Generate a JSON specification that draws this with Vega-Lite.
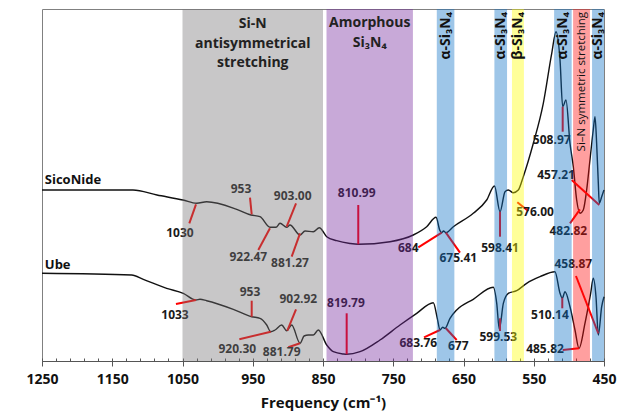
{
  "$schema": "https://vega.github.io/schema/vega-lite/v6.json",
  "width": 562,
  "height": 352,
  "autosize": {"type": "none"},
  "padding": {"left": 42, "top": 9, "right": 19, "bottom": 55},
  "config": {
    "font": "Open Sans",
    "view": {"stroke": "#808080", "strokeWidth": 1}
  },
  "resolve": {"axis": {"x": "independent"}},
  "datasets": {
    "curves": [
      {"s": "SicoNide", "f": 1250, "t": 172},
      {"s": "SicoNide", "f": 1120.5, "t": 172},
      {"s": "SicoNide", "f": 1086.3, "t": 167},
      {"s": "SicoNide", "f": 1049.3, "t": 162},
      {"s": "SicoNide", "f": 1029.8, "t": 158.7},
      {"s": "SicoNide", "f": 1015.6, "t": 160.3},
      {"s": "SicoNide", "f": 972.8, "t": 152.7},
      {"s": "SicoNide", "f": 952.5, "t": 147},
      {"s": "SicoNide", "f": 939.7, "t": 145.3},
      {"s": "SicoNide", "f": 925.4, "t": 134.7},
      {"s": "SicoNide", "f": 916.9, "t": 134.7},
      {"s": "SicoNide", "f": 911.2, "t": 138.7},
      {"s": "SicoNide", "f": 901.7, "t": 134.7},
      {"s": "SicoNide", "f": 897, "t": 137},
      {"s": "SicoNide", "f": 882.7, "t": 127},
      {"s": "SicoNide", "f": 875.6, "t": 131},
      {"s": "SicoNide", "f": 863.8, "t": 130.3},
      {"s": "SicoNide", "f": 855.3, "t": 134.3},
      {"s": "SicoNide", "f": 844.7, "t": 125.3},
      {"s": "SicoNide", "f": 830.5, "t": 121.3},
      {"s": "SicoNide", "f": 811.6, "t": 118.5},
      {"s": "SicoNide", "f": 799.8, "t": 117.7},
      {"s": "SicoNide", "f": 754.6, "t": 120.3},
      {"s": "SicoNide", "f": 721.5, "t": 127},
      {"s": "SicoNide", "f": 702.4, "t": 135.3},
      {"s": "SicoNide", "f": 689.1, "t": 144.7},
      {"s": "SicoNide", "f": 683.5, "t": 131.3},
      {"s": "SicoNide", "f": 681, "t": 129.3},
      {"s": "SicoNide", "f": 678.5, "t": 131},
      {"s": "SicoNide", "f": 675.1, "t": 129.3},
      {"s": "SicoNide", "f": 664.5, "t": 135.3},
      {"s": "SicoNide", "f": 636.1, "t": 148.7},
      {"s": "SicoNide", "f": 617, "t": 162},
      {"s": "SicoNide", "f": 605.9, "t": 176},
      {"s": "SicoNide", "f": 598, "t": 150.3},
      {"s": "SicoNide", "f": 590.9, "t": 170.3},
      {"s": "SicoNide", "f": 586.2, "t": 172},
      {"s": "SicoNide", "f": 579.1, "t": 169.3},
      {"s": "SicoNide", "f": 572, "t": 172},
      {"s": "SicoNide", "f": 564.9, "t": 185.3},
      {"s": "SicoNide", "f": 550.6, "t": 218.7},
      {"s": "SicoNide", "f": 536.4, "t": 258.7},
      {"s": "SicoNide", "f": 524.4, "t": 308.7},
      {"s": "SicoNide", "f": 518.3, "t": 330.3},
      {"s": "SicoNide", "f": 512.6, "t": 302},
      {"s": "SicoNide", "f": 508.8, "t": 255.3},
      {"s": "SicoNide", "f": 504.1, "t": 262},
      {"s": "SicoNide", "f": 498.4, "t": 218.7},
      {"s": "SicoNide", "f": 493.7, "t": 195.3},
      {"s": "SicoNide", "f": 488.9, "t": 162},
      {"s": "SicoNide", "f": 484.2, "t": 148.7},
      {"s": "SicoNide", "f": 479.5, "t": 152},
      {"s": "SicoNide", "f": 474.7, "t": 172},
      {"s": "SicoNide", "f": 470, "t": 202},
      {"s": "SicoNide", "f": 465.3, "t": 232},
      {"s": "SicoNide", "f": 462.8, "t": 245.3},
      {"s": "SicoNide", "f": 460.5, "t": 219},
      {"s": "SicoNide", "f": 458.1, "t": 179},
      {"s": "SicoNide", "f": 456.7, "t": 158.7},
      {"s": "SicoNide", "f": 453.3, "t": 165.3},
      {"s": "SicoNide", "f": 450, "t": 172},
      {"s": "Ube", "f": 1250, "t": 88.7},
      {"s": "Ube", "f": 1122.3, "t": 87},
      {"s": "Ube", "f": 1105.8, "t": 82.7},
      {"s": "Ube", "f": 1072.5, "t": 73.7},
      {"s": "Ube", "f": 1048.9, "t": 68.7},
      {"s": "Ube", "f": 1030.8, "t": 62},
      {"s": "Ube", "f": 1025.1, "t": 62.7},
      {"s": "Ube", "f": 1015.6, "t": 61.3},
      {"s": "Ube", "f": 977.7, "t": 52.7},
      {"s": "Ube", "f": 951.5, "t": 45.3},
      {"s": "Ube", "f": 939.7, "t": 43.7},
      {"s": "Ube", "f": 930.1, "t": 37},
      {"s": "Ube", "f": 924.4, "t": 30.3},
      {"s": "Ube", "f": 918.3, "t": 32},
      {"s": "Ube", "f": 908.8, "t": 37},
      {"s": "Ube", "f": 901.7, "t": 31.3},
      {"s": "Ube", "f": 894.6, "t": 37},
      {"s": "Ube", "f": 882.7, "t": 18.7},
      {"s": "Ube", "f": 877, "t": 26},
      {"s": "Ube", "f": 870.9, "t": 27},
      {"s": "Ube", "f": 863.8, "t": 27},
      {"s": "Ube", "f": 856.7, "t": 32},
      {"s": "Ube", "f": 844.7, "t": 17},
      {"s": "Ube", "f": 835.3, "t": 10.3},
      {"s": "Ube", "f": 821.1, "t": 8},
      {"s": "Ube", "f": 816.3, "t": 7.7},
      {"s": "Ube", "f": 797.3, "t": 10.3},
      {"s": "Ube", "f": 768.9, "t": 22},
      {"s": "Ube", "f": 740.4, "t": 37},
      {"s": "Ube", "f": 716.6, "t": 48.7},
      {"s": "Ube", "f": 693, "t": 59.3},
      {"s": "Ube", "f": 687.3, "t": 43.7},
      {"s": "Ube", "f": 683.5, "t": 32},
      {"s": "Ube", "f": 679.6, "t": 34.7},
      {"s": "Ube", "f": 676.3, "t": 33.7},
      {"s": "Ube", "f": 669.2, "t": 43.7},
      {"s": "Ube", "f": 659.7, "t": 52},
      {"s": "Ube", "f": 636.1, "t": 62.7},
      {"s": "Ube", "f": 607.6, "t": 74.7},
      {"s": "Ube", "f": 602.7, "t": 58.7},
      {"s": "Ube", "f": 599, "t": 32.7},
      {"s": "Ube", "f": 593.3, "t": 58.7},
      {"s": "Ube", "f": 586.2, "t": 68.7},
      {"s": "Ube", "f": 574.3, "t": 71.3},
      {"s": "Ube", "f": 560.1, "t": 78.7},
      {"s": "Ube", "f": 541.1, "t": 85.3},
      {"s": "Ube", "f": 519.8, "t": 90.3},
      {"s": "Ube", "f": 512.6, "t": 68.7},
      {"s": "Ube", "f": 509.4, "t": 63.7},
      {"s": "Ube", "f": 505.5, "t": 70.3},
      {"s": "Ube", "f": 498.4, "t": 55.3},
      {"s": "Ube", "f": 491.3, "t": 32},
      {"s": "Ube", "f": 485.6, "t": 13.7},
      {"s": "Ube", "f": 477.1, "t": 38.7},
      {"s": "Ube", "f": 469, "t": 68.7},
      {"s": "Ube", "f": 465.2, "t": 83.7},
      {"s": "Ube", "f": 461.4, "t": 65.3},
      {"s": "Ube", "f": 458.1, "t": 27},
      {"s": "Ube", "f": 453.3, "t": 55.3},
      {"s": "Ube", "f": 450, "t": 65.3}
    ],
    "ann": [
      {"f": 1040.3, "t": 138.7, "f2": 1030.8, "t2": 157.7},
      {"f": 953.9, "t": 164.3, "f2": 951.5, "t2": 147.7},
      {"f": 942.1, "t": 112, "f2": 925.5, "t2": 133.7},
      {"f": 888.4, "t": 158.7, "f2": 901.7, "t2": 135.3},
      {"f": 894.6, "t": 105.3, "f2": 882.7, "t2": 128.7},
      {"f": 799.8, "t": 157, "f2": 799.8, "t2": 117.7},
      {"f": 714.3, "t": 114.7, "f2": 681, "t2": 129.3},
      {"f": 655, "t": 109.3, "f2": 675.1, "t2": 129.3},
      {"f": 598, "t": 125.3, "f2": 598, "t2": 150.3},
      {"f": 557.8, "t": 151, "f2": 573.4, "t2": 159.7},
      {"f": 508.8, "t": 230.3, "f2": 508.8, "t2": 255.3},
      {"f": 496, "t": 182, "f2": 456.7, "t2": 157},
      {"f": 498.4, "t": 138.7, "f2": 484.2, "t2": 152.7},
      {"f": 1059.3, "t": 58, "f2": 1030.8, "t2": 62},
      {"f": 951.5, "t": 61.3, "f2": 951.5, "t2": 45.3},
      {"f": 969.1, "t": 22.7, "f2": 924.4, "t2": 30.3},
      {"f": 888.4, "t": 52.7, "f2": 900.8, "t2": 31.3},
      {"f": 899.4, "t": 14.7, "f2": 882.7, "t2": 18.7},
      {"f": 816.3, "t": 48.7, "f2": 816.3, "t2": 7.7},
      {"f": 706.2, "t": 24.7, "f2": 683.5, "t2": 32},
      {"f": 659.7, "t": 22, "f2": 675.1, "t2": 33.7},
      {"f": 598, "t": 43.7, "f2": 598, "t2": 31},
      {"f": 509.4, "t": 53.7, "f2": 509.4, "t2": 64.3},
      {"f": 508.8, "t": 12, "f2": 485.6, "t2": 13.7},
      {"f": 489.9, "t": 86, "f2": 458.1, "t2": 28.7}
    ],
    "lab": [
      {"f": 1053.6, "t": 129, "txt": "1030"},
      {"f": 966.7, "t": 173, "txt": "953"},
      {"f": 956.3, "t": 104.7, "txt": "922.47"},
      {"f": 893.2, "t": 166, "txt": "903.00"},
      {"f": 897, "t": 98.7, "txt": "881.27"},
      {"f": 802, "t": 168.7, "txt": "810.99"},
      {"f": 728.6, "t": 114.3, "txt": "684"},
      {"f": 657.4, "t": 103.7, "txt": "675.41"},
      {"f": 598, "t": 114.3, "txt": "598.41"},
      {"f": 548.2, "t": 150.3, "txt": "576.00"},
      {"f": 524.4, "t": 222, "txt": "508.97"},
      {"f": 518.3, "t": 187, "txt": "457.21"},
      {"f": 500.8, "t": 131.3, "txt": "482.82"},
      {"f": 1060.7, "t": 47, "txt": "1033"},
      {"f": 953.9, "t": 70.3, "txt": "953"},
      {"f": 972, "t": 13, "txt": "920.30"},
      {"f": 885.1, "t": 62.7, "txt": "902.92"},
      {"f": 908.8, "t": 10.3, "txt": "881.79"},
      {"f": 817.3, "t": 58.7, "txt": "819.79"},
      {"f": 714.3, "t": 19.3, "txt": "683.76"},
      {"f": 657.4, "t": 16.3, "txt": "677"},
      {"f": 600.5, "t": 25.3, "txt": "599.53"},
      {"f": 526.9, "t": 47, "txt": "510.14"},
      {"f": 534, "t": 12.7, "txt": "485.82"},
      {"f": 493.7, "t": 98, "txt": "458.87"}
    ],
    "bands": [
      {"b1": 1050, "b2": 850, "k": "gray"},
      {"b1": 845, "b2": 722, "k": "purple"},
      {"b1": 688, "b2": 663, "k": "blue"},
      {"b1": 606, "b2": 588, "k": "blue"},
      {"b1": 581, "b2": 564, "k": "yellow"},
      {"b1": 521, "b2": 496, "k": "blue"},
      {"b1": 494, "b2": 470, "k": "red"},
      {"b1": 467, "b2": 450, "k": "blue"}
    ],
    "hdr": [
      {"f": 950, "t": 338, "txt": "Si-N"},
      {"f": 950, "t": 318, "txt": "antisymmetrical"},
      {"f": 950, "t": 299, "txt": "stretching"},
      {"f": 783.5, "t": 339, "txt": "Amorphous"},
      {"f": 783.5, "t": 319, "txt": "Si₃N₄"}
    ],
    "vlab": [
      {"f": 675.5, "t": 350, "txt": "α-Si₃N₄"},
      {"f": 597, "t": 350, "txt": "α-Si₃N₄"},
      {"f": 572.5, "t": 350, "txt": "β-Si₃N₄"},
      {"f": 508.5, "t": 350, "txt": "α-Si₃N₄"},
      {"f": 458.5, "t": 350, "txt": "α-Si₃N₄"}
    ],
    "rlab": [
      {"f": 482, "t": 350, "txt": "Si–N symmetric stretching"}
    ],
    "names": [
      {"f": 1246, "t": 182, "txt": "SicoNide"},
      {"f": 1246, "t": 97, "txt": "Ube"}
    ]
  },
  "layer": [
    {
      "data": {"name": "curves"},
      "mark": {"type": "line", "color": "#111111", "strokeWidth": 1.4, "interpolate": "monotone"},
      "encoding": {
        "x": {
          "field": "f", "type": "quantitative",
          "scale": {"domain": [450, 1250], "reverse": true, "nice": false, "zero": false},
          "axis": {
            "title": "Frequency (cm⁻¹)",
            "titleFontSize": 15, "titleFontWeight": "bold", "titleColor": "#111111", "titlePadding": 9,
            "values": [1250, 1150, 1050, 950, 850, 750, 650, 550, 450],
            "format": "d",
            "labelOverlap": false,
            "labelFlush": false,
            "labelFontSize": 14, "labelFontWeight": "bold", "labelColor": "#111111", "labelPadding": 6,
            "tickSize": 5, "tickColor": "#555555", "domainColor": "#555555", "grid": false
          }
        },
        "y": {
          "field": "t", "type": "quantitative",
          "scale": {"domain": [1, 353], "nice": false, "zero": false},
          "axis": {
            "title": "Transmittance (%)", "titleFontSize": 16, "titleFontWeight": "bold", "titleColor": "#111111",
            "titlePadding": 14, "labels": false, "ticks": false, "grid": false, "domainColor": "#555555"
          }
        },
        "detail": {"field": "s"}
      }
    },
    {
      "data": {"name": "curves"},
      "mark": {"type": "point", "opacity": 0},
      "encoding": {
        "x": {
          "field": "f", "type": "quantitative",
          "axis": {
            "orient": "top", "offset": -352, "title": null, "labels": false, "domain": false, "grid": false,
            "values": [1250,1230,1210,1190,1170,1150,1130,1110,1090,1070,1050,1030,1010,990,970,950,930,910,890,870,850,830,810,790,770,750,730,710,690,670,650,630,610,590,570,550,530,510,490,470,450],
            "tickSize": 3, "tickColor": "#555555"
          }
        },
        "y": {"field": "t", "type": "quantitative", "axis": null}
      }
    },
    {
      "data": {"name": "ann"},
      "mark": {"type": "rule", "color": "#ff0000", "strokeWidth": 2},
      "encoding": {
        "x": {"field": "f", "type": "quantitative", "axis": null},
        "x2": {"field": "f2"},
        "y": {"field": "t", "type": "quantitative"},
        "y2": {"field": "t2"}
      }
    },
    {
      "data": {"name": "lab"},
      "mark": {"type": "text", "fontSize": 12, "fontWeight": "bold", "color": "#1a1a1a", "align": "center", "baseline": "middle"},
      "encoding": {
        "x": {"field": "f", "type": "quantitative", "axis": null},
        "y": {"field": "t", "type": "quantitative"},
        "text": {"field": "txt"}
      }
    },
    {
      "data": {"name": "bands"},
      "mark": {"type": "rect", "opacity": 0.4},
      "encoding": {
        "x": {"field": "b1", "type": "quantitative", "axis": null},
        "x2": {"field": "b2"},
        "color": {
          "field": "k", "type": "nominal", "legend": null,
          "scale": {"domain": ["gray", "purple", "blue", "yellow", "red"], "range": ["#767276", "#76289e", "#0d70c5", "#ffff00", "#ff0f0f"]}
        }
      }
    },
    {
      "data": {"name": "hdr"},
      "mark": {"type": "text", "fontSize": 14, "fontWeight": "bold", "color": "#222222", "align": "center", "baseline": "middle"},
      "encoding": {
        "x": {"field": "f", "type": "quantitative", "axis": null},
        "y": {"field": "t", "type": "quantitative"},
        "text": {"field": "txt"}
      }
    },
    {
      "data": {"name": "vlab"},
      "mark": {"type": "text", "fontSize": 14, "fontWeight": "bold", "color": "#111111", "align": "right", "baseline": "middle", "angle": 270},
      "encoding": {
        "x": {"field": "f", "type": "quantitative", "axis": null},
        "y": {"field": "t", "type": "quantitative"},
        "text": {"field": "txt"}
      }
    },
    {
      "data": {"name": "rlab"},
      "mark": {"type": "text", "fontSize": 11.5, "color": "#111111", "align": "right", "baseline": "middle", "angle": 270},
      "encoding": {
        "x": {"field": "f", "type": "quantitative", "axis": null},
        "y": {"field": "t", "type": "quantitative"},
        "text": {"field": "txt"}
      }
    },
    {
      "data": {"name": "names"},
      "mark": {"type": "text", "fontSize": 13, "fontWeight": "bold", "color": "#111111", "align": "left", "baseline": "middle"},
      "encoding": {
        "x": {"field": "f", "type": "quantitative", "axis": null},
        "y": {"field": "t", "type": "quantitative"},
        "text": {"field": "txt"}
      }
    }
  ]
}
